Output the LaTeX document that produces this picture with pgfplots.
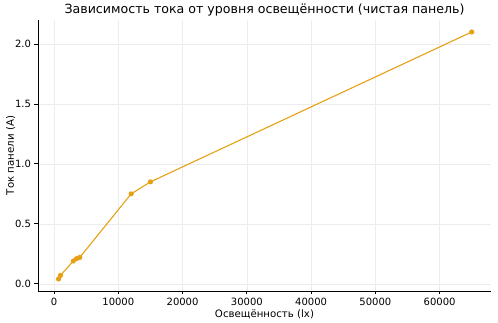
\documentclass[border=0pt]{standalone}
\usepackage{pgfplots}
\pgfplotsset{compat=1.18}
\usepackage{fontspec}
\setmainfont{DejaVu Sans}
\definecolor{lineor}{RGB}{230,160,20}
\begin{document}
\begin{tikzpicture}
\begin{axis}[
  name=ax,
  scale only axis, width=453pt, height=271pt,
  xmin=-2500, xmax=68000, ymin=-0.06, ymax=2.2,
  axis lines*=left,
  axis line style={black, line width=0.8pt},
  tick style={black, line width=0.8pt},
  tick align=outside, major tick length=3.5pt,
  xtick={0,10000,...,60000}, ytick={0,0.5,...,2.0},
  scaled x ticks=false,
  xticklabel style={/pgf/number format/.cd, fixed, 1000 sep={}},
  yticklabel style={/pgf/number format/.cd, fixed, fixed zerofill, precision=1},
  /pgf/number format/assume math mode=true,
  ticklabel style={font=\fontsize{10}{11}\selectfont},
  grid=major, grid style={gray!15, line width=0.6pt},
  title={Зависимость тока от уровня освещённости (чистая панель)},
  title style={font=\fontsize{12.6}{14}\selectfont, yshift=-6pt},
  xlabel={Освещённость (lx)}, ylabel={Ток панели (А)},
  label style={font=\fontsize{10.2}{11}\selectfont},
  xlabel style={yshift=3pt}, ylabel style={yshift=-7pt},
]
\addplot[lineor, line width=1.1pt, mark=*, mark size=2pt, mark options={fill=lineor, draw=lineor}] coordinates {
(700,0.04) (1000,0.07) (3000,0.19) (3500,0.21) (4000,0.22) (12000,0.75) (15000,0.85) (65000,2.1)
};
\end{axis}
\path[use as bounding box] ([xshift=-38pt,yshift=-32pt]ax.south west) rectangle ([xshift=7pt,yshift=20pt]ax.north east);
\end{tikzpicture}
\end{document}
